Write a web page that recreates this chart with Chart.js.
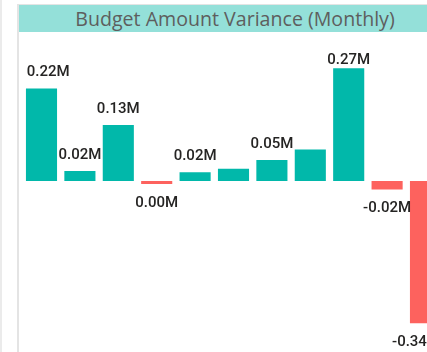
<!DOCTYPE html>
<html>
<head>
<meta charset="utf-8">
<script src="https://cdn.jsdelivr.net/npm/chart.js@4"></script>
<style>
  html, body { margin: 0; padding: 0; background: #fff; }
  body { width: 427px; height: 352px; overflow: hidden; position: relative; }
  .edge { position: absolute; left: 0; top: 0; width: 2px; height: 352px; background: #ebebeb; }
  .card {
    position: absolute; left: 17px; top: 4px; width: 432px; height: 360px;
    border-left: 2px solid #e4e4e4; border-top: 1px solid #e4e4e4;
  }
  .card-title {
    height: 27px; background: #94e0d9; color: #5e5e5e;
    font-family: 'Open Sans', sans-serif; font-size: 19.6px; line-height: 28px;
    text-align: center; white-space: nowrap;
  }
  #varianceChart { position: absolute; left: 0; top: 28px; }
</style>
</head>
<body>
<div class="edge"></div>
<div class="card">
  <div class="card-title">Budget Amount Variance (Monthly)</div>
  <canvas id="varianceChart" width="430" height="330"></canvas>
</div>
<script>
// Monthly variance, in millions
const months = ['Jan', 'Feb', 'Mar', 'Apr', 'May', 'Jun', 'Jul', 'Aug', 'Sep', 'Oct', 'Nov'];
const variance = [0.22, 0.024, 0.133, -0.004, 0.021, 0.029, 0.05, 0.075, 0.268, -0.02, -0.338];
// labels that fit without overlapping
const showLabel = [true, true, true, true, true, false, true, false, true, true, true];

const POS = '#01b8aa';
const NEG = '#fd625e';

function fmtM(v) {
    let s = v.toFixed(2);
    if (s === '-0.00') s = '0.00';
    return s + 'M';
}

// draws the value labels above / below each bar, kept inside the plot
const barLabels = {
    id: 'barLabels',
    afterDatasetsDraw(chart) {
        const c = chart.ctx;
        const area = chart.chartArea;
        const meta = chart.getDatasetMeta(0);
        c.save();
        c.font = '500 15px Roboto';
        c.fillStyle = '#252423';
        c.textAlign = 'center';
        c.textBaseline = 'middle';
        meta.data.forEach((bar, i) => {
            if (!showLabel[i]) return;
            const v = variance[i];
            const txt = fmtM(v);
            const w = c.measureText(txt).width;
            let x = bar.x;
            x = Math.max(x, area.left + 4.4 + w / 2);
            x = Math.min(x, area.right - 4.7 - w / 2);
            let y;
            if (v >= 0) {
                y = Math.max(bar.y - 16, area.top + 5.5);
            } else {
                y = bar.y + 19;
            }
            c.fillText(txt, x, y);
        });
        c.restore();
    }
};

const ctx = document.getElementById('varianceChart').getContext('2d');
new Chart(ctx, {
    type: 'bar',
    data: {
        labels: months,
        datasets: [{
            data: variance,
            backgroundColor: variance.map(v => v < 0 ? NEG : POS),
            borderWidth: 0,
            barPercentage: 0.81,
            categoryPercentage: 1,
            minBarLength: 3
        }]
    },
    options: {
        responsive: false,
        animation: false,
        layout: {
            padding: { top: 21.7, left: 3.3, right: 4.3, bottom: 13.6 }
        },
        scales: {
            x: { display: false, grid: { display: false } },
            y: { display: false, min: -0.40, max: 0.30, grid: { display: false } }
        },
        plugins: {
            legend: { display: false },
            tooltip: { enabled: false }
        }
    },
    plugins: [barLabels]
});
</script>
</body>
</html>
